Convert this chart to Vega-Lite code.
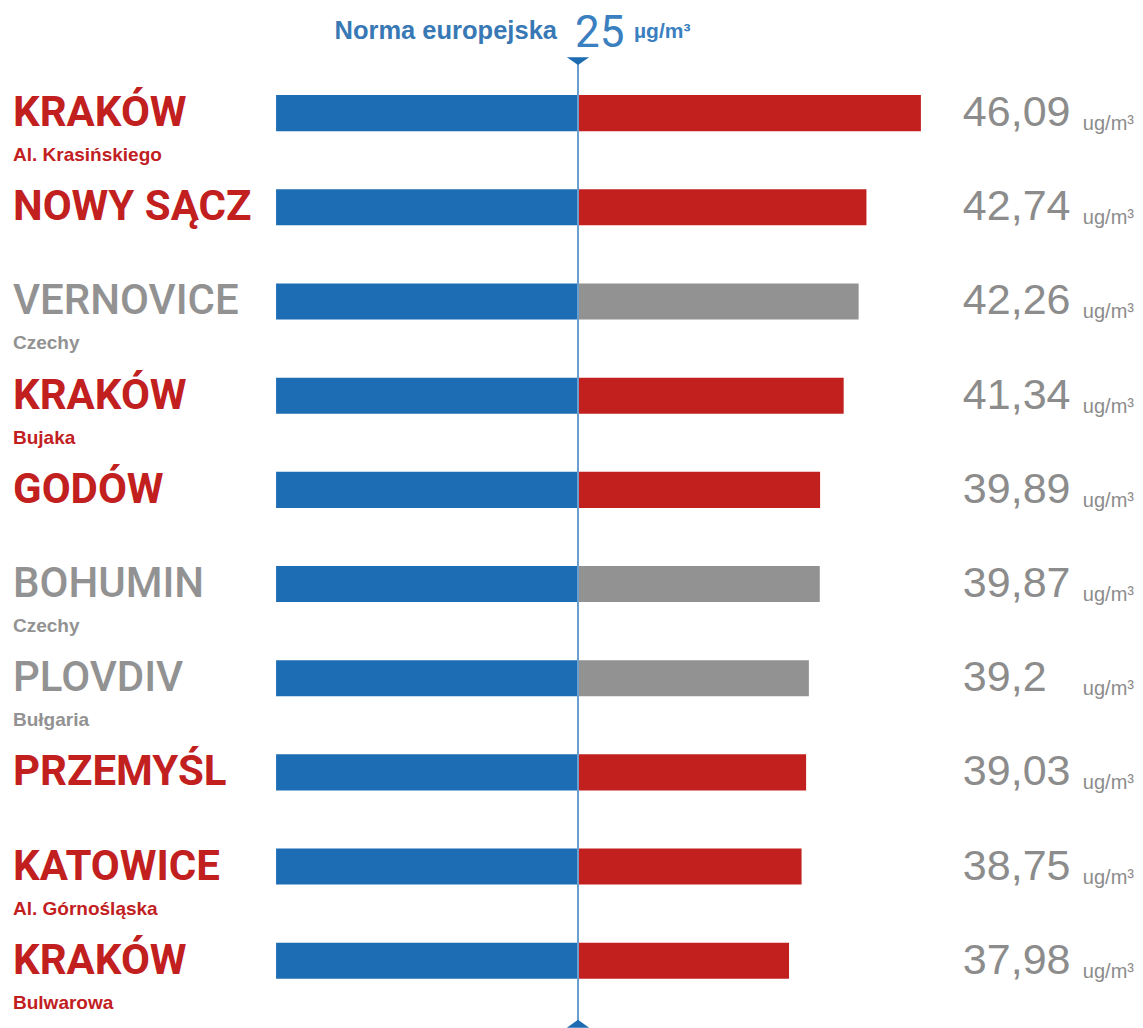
{
  "$schema": "https://vega.github.io/schema/vega-lite/v6.json",
  "width": 1143,
  "height": 1028,
  "autosize": {"type": "fit", "contains": "padding"},
  "padding": 0,
  "background": "white",
  "config": {
    "view": {"stroke": null},
    "locale": {"number": {"decimal": ",", "thousands": " ", "grouping": [3], "currency": ["", " zł"]}}
  },
  "data": {
    "values": [
      {"rank": 1, "city": "KRAKÓW", "sub": "Al. Krasińskiego", "country": "Polska", "norm": 25, "value": 46.09},
      {"rank": 2, "city": "NOWY SĄCZ", "sub": "", "country": "Polska", "norm": 25, "value": 42.74},
      {"rank": 3, "city": "VERNOVICE", "sub": "Czechy", "country": "Czechy", "norm": 25, "value": 42.26},
      {"rank": 4, "city": "KRAKÓW", "sub": "Bujaka", "country": "Polska", "norm": 25, "value": 41.34},
      {"rank": 5, "city": "GODÓW", "sub": "", "country": "Polska", "norm": 25, "value": 39.89},
      {"rank": 6, "city": "BOHUMIN", "sub": "Czechy", "country": "Czechy", "norm": 25, "value": 39.87},
      {"rank": 7, "city": "PLOVDIV", "sub": "Bułgaria", "country": "Bułgaria", "norm": 25, "value": 39.2},
      {"rank": 8, "city": "PRZEMYŚL", "sub": "", "country": "Polska", "norm": 25, "value": 39.03},
      {"rank": 9, "city": "KATOWICE", "sub": "Al. Górnośląska", "country": "Polska", "norm": 25, "value": 38.75},
      {"rank": 10, "city": "KRAKÓW", "sub": "Bulwarowa", "country": "Polska", "norm": 25, "value": 37.98}
    ]
  },
  "layer": [
    {
      "mark": {"type": "bar", "color": "#1d6db5"},
      "encoding": {
        "y": {"field": "rank", "type": "ordinal", "axis": null, "scale": {"paddingInner": 0.617, "paddingOuter": 0.766, "align": 0.659}},
        "x": {"field": "norm", "type": "quantitative", "axis": null, "scale": {"domain": [-10.55, 59.75], "zero": false, "nice": false}},
        "x2": {"datum": 6.43}
      }
    },
    {
      "mark": {"type": "bar"},
      "encoding": {
        "y": {"field": "rank", "type": "ordinal"},
        "x": {"field": "norm", "type": "quantitative"},
        "x2": {"field": "value"},
        "color": {"field": "country", "type": "nominal", "legend": null,
          "scale": {"domain": ["Polska", "Czechy", "Bułgaria"], "range": ["#c1201f", "#929292", "#929292"]}}
      }
    },
    {
      "data": {"values": [{"norma": 25, "rank": 1, "lastRank": 10, "label": "Norma europejska", "unit": "µg/m³"}]},
      "layer": [
        {
          "mark": {"type": "rule", "color": "#6a9fcf", "strokeWidth": 2, "yOffset": -52, "y2Offset": 63},
          "encoding": {
            "x": {"field": "norma", "type": "quantitative"},
            "y": {"field": "rank", "type": "ordinal"},
            "y2": {"field": "lastRank"}
          }
        },
        {
          "mark": {"type": "point", "shape": "M-1,-0.35L1,-0.35L0,0.35Z", "size": 500, "filled": true, "opacity": 1, "color": "#1d6cb1", "yOffset": -52},
          "encoding": {
            "x": {"field": "norma", "type": "quantitative"},
            "y": {"field": "rank", "type": "ordinal"}
          }
        },
        {
          "mark": {"type": "point", "shape": "M-1,0.35L1,0.35L0,-0.35Z", "size": 500, "filled": true, "opacity": 1, "color": "#1d6cb1", "yOffset": 63},
          "encoding": {
            "x": {"field": "norma", "type": "quantitative"},
            "y": {"field": "lastRank", "type": "ordinal"}
          }
        },
        {
          "mark": {"type": "text", "align": "right", "baseline": "alphabetic", "dx": -21, "dy": -74, "font": "Liberation Sans", "fontWeight": "bold", "fontSize": 25.5, "color": "#3878b4"},
          "encoding": {
            "x": {"field": "norma", "type": "quantitative"},
            "y": {"field": "rank", "type": "ordinal"},
            "text": {"field": "label", "type": "nominal"}
          }
        },
        {
          "mark": {"type": "text", "align": "left", "baseline": "alphabetic", "dx": -3, "dy": -66, "font": "Roboto", "fontSize": 44, "color": "#3a80c0"},
          "encoding": {
            "x": {"field": "norma", "type": "quantitative"},
            "y": {"field": "rank", "type": "ordinal"},
            "text": {"field": "norma", "type": "quantitative"}
          }
        },
        {
          "mark": {"type": "text", "align": "left", "baseline": "alphabetic", "dx": 56, "dy": -75, "font": "Liberation Sans", "fontWeight": "bold", "fontSize": 21, "color": "#3a80c0"},
          "encoding": {
            "x": {"field": "norma", "type": "quantitative"},
            "y": {"field": "rank", "type": "ordinal"},
            "text": {"field": "unit", "type": "nominal"}
          }
        }
      ]
    },
    {
      "transform": [{"filter": "datum.country === 'Polska'"}],
      "mark": {"type": "text", "align": "left", "baseline": "middle", "font": "Roboto", "fontWeight": "bold", "fontSize": 42},
      "encoding": {
        "x": {"datum": -9.75, "type": "quantitative"},
        "y": {"field": "rank", "type": "ordinal"},
        "text": {"field": "city", "type": "nominal"},
        "color": {"field": "country", "type": "nominal"}
      }
    },
    {
      "transform": [{"filter": "datum.country !== 'Polska'"}],
      "mark": {"type": "text", "align": "left", "baseline": "middle", "font": "Roboto", "fontWeight": 500, "fontSize": 42},
      "encoding": {
        "x": {"datum": -9.75, "type": "quantitative"},
        "y": {"field": "rank", "type": "ordinal"},
        "text": {"field": "city", "type": "nominal"},
        "color": {"field": "country", "type": "nominal"}
      }
    },
    {
      "mark": {"type": "text", "align": "left", "baseline": "middle", "dy": 42, "font": "Liberation Sans", "fontWeight": "bold", "fontSize": 19},
      "encoding": {
        "x": {"datum": -9.75, "type": "quantitative"},
        "y": {"field": "rank", "type": "ordinal"},
        "text": {"field": "sub", "type": "nominal"},
        "color": {"field": "country", "type": "nominal"}
      }
    },
    {
      "mark": {"type": "text", "align": "left", "baseline": "middle", "font": "Liberation Sans", "fontSize": 43, "color": "#8c8c8c"},
      "encoding": {
        "x": {"datum": 48.67, "type": "quantitative"},
        "y": {"field": "rank", "type": "ordinal"},
        "text": {"field": "value", "type": "quantitative", "format": ".4~r"}
      }
    },
    {
      "mark": {"type": "text", "align": "left", "baseline": "alphabetic", "dy": 17, "text": "ug/m³", "font": "Liberation Sans", "fontSize": 20, "color": "#8c8c8c"},
      "encoding": {
        "x": {"datum": 56.05, "type": "quantitative"},
        "y": {"field": "rank", "type": "ordinal"}
      }
    }
  ]
}
